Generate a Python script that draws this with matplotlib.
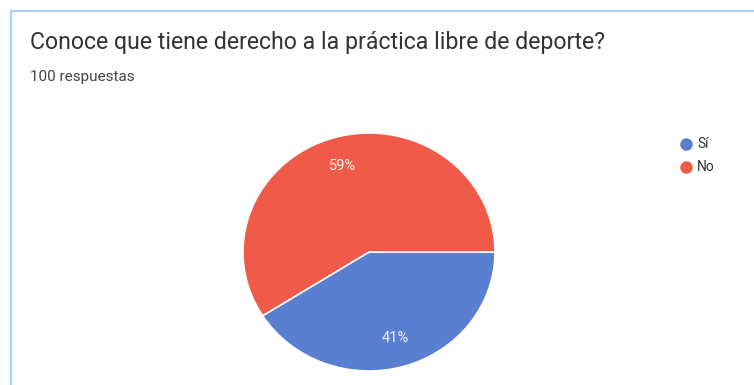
import matplotlib
matplotlib.use("Agg")
import matplotlib.pyplot as plt
from matplotlib.lines import Line2D

# data
labels = ["Sí", "No"]
values = [41, 59]
colors = ["#5a7fd0", "#f05a48"]
title = "Conoce que tiene derecho a la práctica libre de deporte?"
subtitle = "100 respuestas"

plt.rcParams["font.family"] = ["Roboto", "DejaVu Sans"]

fig = plt.figure(figsize=(7.54, 3.85), dpi=100, facecolor="white")

# card border (top and left edges visible in the scan)
border = "#a9d3f2"
fig.add_artist(Line2D([11 / 754, 1.0], [1 - 11 / 385, 1 - 11 / 385],
                      color=border, lw=1.6, transform=fig.transFigure))
fig.add_artist(Line2D([11 / 754, 11 / 754], [0.0, 1 - 11 / 385],
                      color=border, lw=1.6, transform=fig.transFigure))

fig.text(30 / 754, 1 - 43 / 385, title, ha="left", va="center",
         fontsize=16.7, color="#333333")
fig.text(30 / 754, 1 - 77 / 385, subtitle, ha="left", va="center",
         fontsize=11, color="#444444")

# pie
ax = fig.add_axes([243 / 754, 14 / 385, 252 / 754, 238 / 385])
wedges, texts, autotexts = ax.pie(
    values, colors=colors, startangle=0, counterclock=False,
    autopct=lambda p: f"{round(p)}%", pctdistance=0.75,
    wedgeprops=dict(edgecolor="white", linewidth=1.2),
    textprops=dict(color="#f4f4f4", fontsize=10.5),
)
ax.set_aspect("auto")
ax.set_xlim(-1.0, 1.0)
ax.set_ylim(-1.0, 1.0)
ax.axis("off")

# legend
for i, (lab, col) in enumerate(zip(labels, colors)):
    y = 1 - (144 + i * 23) / 385
    fig.add_artist(Line2D([686 / 754], [y], marker="o", markersize=8,
                          color=col, linestyle="none", transform=fig.transFigure))
    fig.text(697 / 754, y, lab, ha="left", va="center", fontsize=10, color="#333333")

fig.savefig("out.png", dpi=100, facecolor="white")
